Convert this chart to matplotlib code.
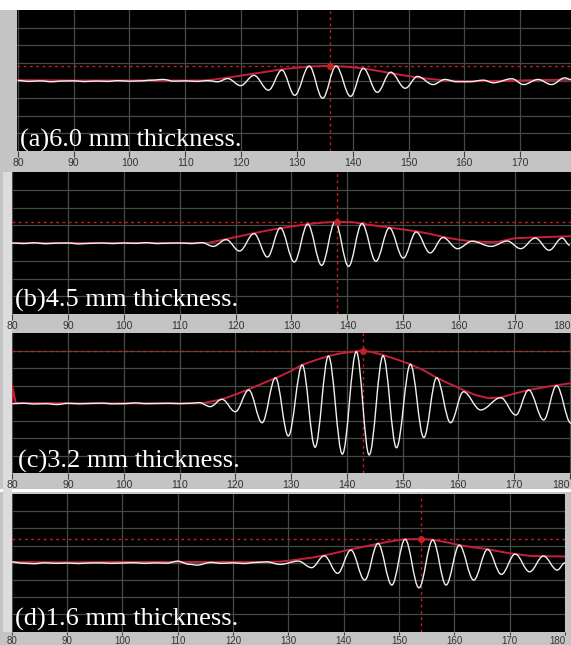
import matplotlib
matplotlib.use("Agg")
import matplotlib.pyplot as plt
from matplotlib.path import Path
from matplotlib.patches import PathPatch, Rectangle

W, H = 571, 645

# ---- data ----
labels = ['(a)6.0 mm thickness.', '(b)4.5 mm thickness.',
          '(c)3.2 mm thickness.', '(d)1.6 mm thickness.']
x_ticks = [80, 90, 100, 110, 120, 130, 140, 150, 160, 170, 180]

# (a) 6.0 mm
a_trace_x = [80, 82, 84, 86, 88, 90, 92, 94, 96, 98,
             100, 102, 104, 106, 108, 110, 112, 114, 115.8, 117.6,
             119.9, 122.3, 124.9, 127.3, 129.6, 132.2, 134.6, 137.0, 139.6, 141.9,
             144.4, 146.8, 149.4, 151.6, 154.4, 156.5, 158.6, 161.0, 163.4, 165.2,
             168.5, 170.6, 173.2, 175.6, 178.0, 179.1]
a_trace_y = [4.0, 3.95, 3.98, 3.93, 3.97, 3.98, 3.94, 3.97, 3.95, 3.99,
             3.96, 3.98, 4.02, 4.06, 3.96, 3.98, 3.95, 3.99, 3.93, 4.11,
             3.71, 4.29, 3.45, 4.59, 3.16, 4.82, 2.99, 4.82, 3.10, 4.69,
             3.33, 4.47, 3.56, 4.23, 3.77, 4.06, 3.93, 3.93, 4.02, 3.87,
             4.10, 3.77, 4.06, 3.77, 4.15, 4.05]
a_env_x = [80, 90, 100, 108, 113, 115, 118, 121, 124, 127, 130, 133, 136,
           139, 142, 145, 148, 151, 154, 157, 160, 165, 170, 175, 179.1]
a_env_y = [4.02, 4.0, 4.0, 4.0, 4.0, 4.05, 4.18, 4.33, 4.47, 4.62, 4.73, 4.8, 4.83,
           4.78, 4.68, 4.52, 4.35, 4.2, 4.08, 4.0, 3.97, 3.97, 4.0, 4.03, 4.05]
a_peak = (136.0, 4.83)

# (b) 4.5 mm
b_trace_x = [80, 82, 84, 86, 88, 90, 92, 94, 96, 98,
             100, 102, 104, 106, 108, 110, 112, 114,
             116.0, 118.3, 120.7, 123.3, 125.7, 128.0, 130.5, 132.9, 135.4, 137.8,
             140.2, 142.6, 145.1, 147.5, 150.0, 152.3, 154.8, 157.1, 159.7, 162.3,
             165.7, 168.6, 171.0, 173.6, 176.1, 178.4, 179.8]
b_trace_y = [4.0, 3.97, 4.01, 3.96, 3.99, 4.0, 3.95, 3.98, 4.0, 3.97,
             4.0, 3.98, 4.02, 3.97, 3.99, 4.0, 3.97, 4.02,
             3.81, 4.19, 3.55, 4.53, 3.21, 4.85, 2.93, 5.06, 2.74, 5.19,
             2.68, 5.10, 2.97, 4.85, 3.15, 4.62, 3.44, 4.31, 3.68, 4.10,
             3.81, 4.11, 3.68, 4.28, 3.59, 4.28, 3.87]
b_env_x = [80, 90, 100, 110, 115, 118, 121, 124, 127, 130,
           133, 136, 138.1, 141, 144, 147.5, 150, 152.3, 155, 157,
           160, 162, 165, 167, 170, 175, 179.8]
b_env_y = [4.0, 4.0, 4.0, 4.0, 4.0, 4.2, 4.4, 4.6, 4.78, 4.93,
           5.07, 5.16, 5.19, 5.17, 5.02, 4.87, 4.76, 4.66, 4.5, 4.35,
           4.18, 4.1, 4.06, 4.07, 4.27, 4.33, 4.38]
b_peak = (138.1, 5.19)

# (c) 3.2 mm
c_trace_x = [80, 82, 84, 86, 88, 90, 92, 94, 96, 98,
             100, 102, 104, 106, 108, 110, 112, 113.5, 115.5, 117.6,
             120.0, 122.4, 124.8, 127.2, 129.5, 132.0, 134.3, 136.7, 139.2, 141.7,
             144.0, 146.5, 148.9, 151.4, 153.8, 156.1, 158.6, 160.9, 164.0, 167.6,
             170.3, 172.6, 175.3, 177.6, 180.2]
c_trace_y = [3.98, 4.0, 3.96, 3.98, 3.93, 4.0, 3.97, 3.99, 4.01, 3.97,
             3.98, 4.02, 3.98, 3.99, 4.0, 3.98, 4.0, 4.04, 3.81, 4.23,
             3.52, 4.76, 2.89, 5.46, 2.13, 6.19, 1.49, 6.70, 1.10, 6.95,
             1.05, 6.72, 1.46, 6.23, 2.04, 5.46, 2.89, 4.66, 3.62, 4.32,
             3.33, 4.76, 3.05, 5.01, 2.86]
c_env_x = [80, 80, 80.6, 90, 100, 110, 114, 117.6, 120, 122.4,
           125, 128, 130, 132, 134.5, 136.7, 139, 141.7, 142.9, 144.5,
           146.5, 149, 151.4, 154, 156.1, 158.5, 160.9, 163, 165.4, 167.6,
           170, 172.6, 176, 180.2]
c_env_y = [4.0, 5.0, 4.02, 4.0, 4.0, 4.0, 4.0, 4.23, 4.5, 4.8,
           5.15, 5.55, 5.85, 6.2, 6.48, 6.7, 6.86, 6.97, 7.0, 6.93,
           6.76, 6.5, 6.23, 5.85, 5.46, 5.1, 4.76, 4.48, 4.29, 4.33,
           4.55, 4.76, 4.95, 5.15]
c_peak = (142.9, 7.0)

# (d) 1.6 mm
d_trace_x = [80, 82, 84, 86, 88, 90, 92, 94, 96, 98,
             100, 102, 104, 106, 108, 110, 112, 113.5, 116, 118,
             120, 122, 124, 126, 128.5, 131.8, 134.2, 136.5, 138.9, 141.3,
             143.8, 146.2, 148.7, 151.1, 153.6, 156.1, 158.5, 160.9, 163.5, 166.0,
             168.5, 171.0, 173.6, 176.1, 178.6, 180]
d_trace_y = [4.05, 3.98, 3.95, 4.0, 3.97, 3.99, 3.96, 3.99, 4.0, 3.97,
             3.99, 4.01, 3.97, 4.0, 3.98, 4.1, 3.92, 3.87, 4.02, 3.97,
             4.0, 3.96, 4.02, 4.06, 3.91, 4.10, 3.72, 4.41, 3.39, 4.74,
             3.0, 5.13, 2.71, 5.37, 2.55, 5.33, 2.71, 5.03, 3.0, 4.78,
             3.33, 4.51, 3.48, 4.40, 3.58, 4.0]
d_env_x = [80, 90, 100, 110, 120, 125, 128.5, 131.5, 134.6, 137.5,
           140.7, 143.5, 146.7, 149, 151.1, 154, 156.2, 158.5, 160.9, 163.5,
           165.9, 168, 170.1, 173.8, 177, 180]
d_env_y = [4.05, 4.03, 4.05, 4.05, 4.05, 4.05, 4.07, 4.18, 4.32, 4.5,
           4.74, 4.93, 5.14, 5.28, 5.37, 5.38, 5.34, 5.2, 5.03, 4.9,
           4.8, 4.67, 4.55, 4.4, 4.38, 4.37]
d_peak = (154.0, 5.38)

traces = [(a_trace_x, a_trace_y), (b_trace_x, b_trace_y),
          (c_trace_x, c_trace_y), (d_trace_x, d_trace_y)]
envs = [(a_env_x, a_env_y), (b_env_x, b_env_y),
        (c_env_x, c_env_y), (d_env_x, d_env_y)]
peaks = [a_peak, b_peak, c_peak, d_peak]

# ---- layout (pixel boxes of the screenshot panels) ----
boxes = [(17.3, 10, 571, 151), (12, 172, 571, 314),
         (12.3, 333.3, 571, 473.3), (11.7, 494, 565, 631.7)]
xlims = [(79.9, 179.1), (80, 179.8), (80, 180.2), (80, 180)]
n_ticks = [10, 11, 11, 11]          # panel (a) shows no 180 label
label_off = [(2.7, 4.5), (3, 7), (6, 6), (3.3, 6.5)]

BG = '#c4c4c4'
GRID = '#424c40'
WAVE = '#f0f0f0'
ENV = '#c8203a'
CROSS = '#c42222'


def px_box(x0, y0, x1, y1):
    return [x0 / W, 1 - y1 / H, (x1 - x0) / W, (y1 - y0) / H]


def smooth_path(xs, ys):
    # cubic segments with flat tangents at each read extremum
    verts = [(xs[0], ys[0])]
    codes = [Path.MOVETO]
    for x0, y0, x1, y1 in zip(xs[:-1], ys[:-1], xs[1:], ys[1:]):
        dx = (x1 - x0) * 0.36
        verts += [(x0 + dx, y0), (x1 - dx, y1), (x1, y1)]
        codes += [Path.CURVE4] * 3
    return Path(verts, codes)


fig = plt.figure(figsize=(W / 100, H / 100), dpi=100, facecolor=BG)
# white band at the top and thin white seam above the last screenshot
fig.add_artist(Rectangle((0, 1 - 10 / H), 1, 10 / H, transform=fig.transFigure,
                         facecolor='white', edgecolor='none', zorder=0))
fig.add_artist(Rectangle((0, 1 - 492 / H), 1, 3 / H, transform=fig.transFigure,
                         facecolor='white', edgecolor='none', zorder=0))
fig.add_artist(Rectangle((3 / W, 1 - 632 / H), 9 / W, 460 / H, transform=fig.transFigure,
                         facecolor='#dcdcdc', edgecolor='none', zorder=0))

for i in range(4):
    x0, y0, x1, y1 = boxes[i]
    ax = fig.add_axes(px_box(*boxes[i]))
    ax.set_facecolor('black')
    ax.set_xlim(*xlims[i])
    ax.set_ylim(0, 8)
    ticks = x_ticks[:n_ticks[i]]
    ax.set_xticks(ticks)
    ax.set_xticklabels([str(t) for t in ticks])
    ax.set_yticks(range(1, 8))
    ax.grid(True, color=GRID, lw=0.9)
    ax.set_axisbelow(True)
    for s in ax.spines.values():
        s.set_visible(False)
    ax.tick_params(axis='y', length=0, labelleft=False)
    if i < 3:
        ax.tick_params(axis='x', direction='out', length=4, width=0.8, color='#404040',
                       pad=1, labelsize=7.5, labelcolor='#333333')
    else:
        # bottom strip is short: keep the labels inside the picture
        ax.tick_params(axis='x', direction='out', length=2.5, width=0.8, color='#404040',
                       pad=0.3, labelsize=7, labelcolor='#333333')
    tick_texts = ax.get_xticklabels()
    for t in tick_texts:
        t.set_family('Liberation Sans')
    if n_ticks[i] == 11:
        tick_texts[-1].set_horizontalalignment('right')

    ex, ey = envs[i]
    ax.plot(ex, ey, color=ENV, lw=1.4, zorder=3)

    tx, ty = traces[i]
    ax.add_patch(PathPatch(smooth_path(tx, ty), facecolor='none',
                           edgecolor=WAVE, lw=1.0, zorder=4))

    px, py = peaks[i]
    ax.axhline(py, color=CROSS, lw=1.0, ls=(0, (2, 2.5)), zorder=2)
    ax.axvline(px, color=CROSS, lw=1.0, ls=(0, (2, 2.5)), zorder=2)
    ax.plot([px], [py], 'o', color=CROSS, ms=4, zorder=5)

    ox, oy = label_off[i]
    ax.text(ox / (x1 - x0), oy / (y1 - y0), labels[i], transform=ax.transAxes,
            fontsize=19, color='white', family='Liberation Serif',
            ha='left', va='baseline', zorder=6)

fig.savefig('out.png', dpi=100, facecolor=fig.get_facecolor())
